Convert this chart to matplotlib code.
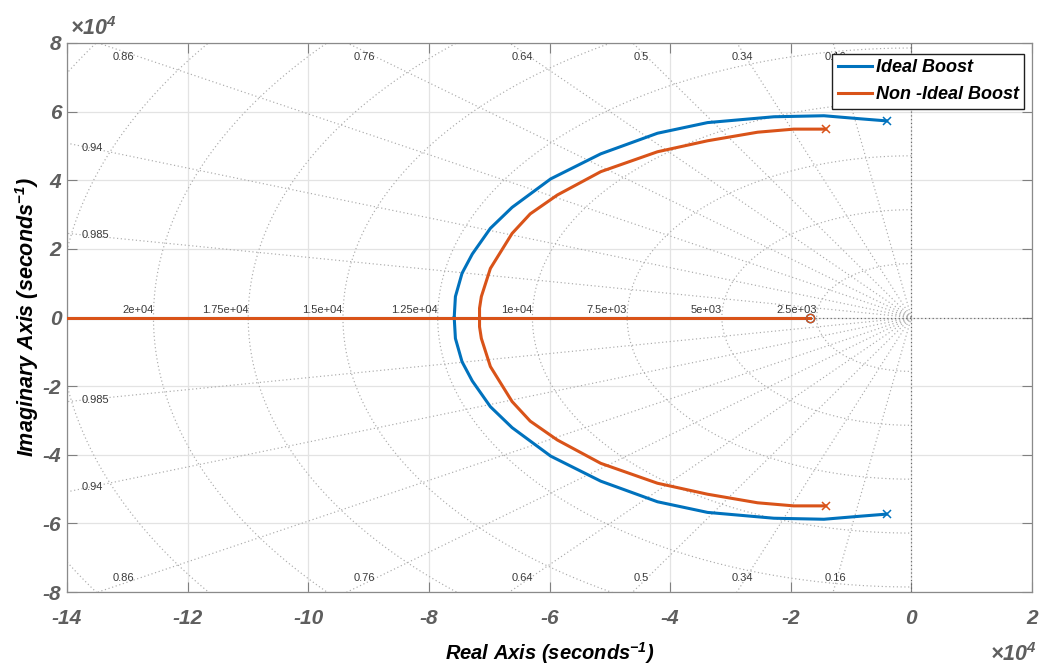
import numpy as np
import matplotlib
matplotlib.use("Agg")
import matplotlib.pyplot as plt
from matplotlib.ticker import FuncFormatter, MultipleLocator

plt.rcParams['font.family'] = ['Liberation Sans', 'DejaVu Sans']
plt.rcParams['axes.unicode_minus'] = False
plt.rcParams['mathtext.fontset'] = 'custom'
plt.rcParams['mathtext.rm'] = 'Liberation Sans:italic:bold'
plt.rcParams['mathtext.it'] = 'Liberation Sans:italic:bold'
plt.rcParams['mathtext.bf'] = 'Liberation Sans:italic:bold'

# ---------------- data (rad/s) ----------------
ideal_re = [-0.41e4, -0.84e4, -1.45e4, -2.28e4, -3.38e4, -4.21e4, -5.15e4,
            -5.98e4, -6.62e4, -6.98e4, -7.28e4, -7.45e4, -7.56e4, -7.58e4]
ideal_im = [5.73e4, 5.79e4, 5.88e4, 5.85e4, 5.68e4, 5.37e4, 4.77e4,
            4.04e4, 3.21e4, 2.60e4, 1.85e4, 1.29e4, 0.61e4, 0.0]

nonideal_re = [-1.42e4, -1.95e4, -2.55e4, -3.38e4, -4.21e4, -5.15e4, -5.87e4,
               -6.32e4, -6.62e4, -6.98e4, -7.13e4, -7.16e4, -7.16e4]
nonideal_im = [5.49e4, 5.49e4, 5.40e4, 5.15e4, 4.83e4, 4.25e4, 3.57e4,
               3.02e4, 2.45e4, 1.43e4, 0.61e4, 0.27e4, 0.0]

ideal_zero = -1.68e4
nonideal_zero = -1.68e4
real_branch_end = -1.0e6          # real-axis branch heading to -infinity

labels = ['Ideal Boost', 'Non -Ideal Boost']
colors = ['#0072BD', '#D95319']

# s-plane grid (sgrid) values
zetas = [0.16, 0.34, 0.5, 0.64, 0.76, 0.86, 0.94, 0.985]
zeta_labels = ['0.16', '0.34', '0.5', '0.64', '0.76', '0.86', '0.94', '0.985']
wn_hz = [2500, 5000, 7500, 10000, 12500, 15000, 17500, 20000, 22500, 25000]
wn_labels = ['2.5e+03', '5e+03', '7.5e+03', '1e+04', '1.25e+04', '1.5e+04',
             '1.75e+04', '2e+04', '', '']

xlim = (-14e4, 2e4)
ylim = (-8e4, 8e4)

# ---------------- figure ----------------
fig = plt.figure(figsize=(10.56, 6.68), dpi=100)
ax = fig.add_axes([67/1056, 1-592/668, 965/1056, 549/668])
ax.set_xlim(*xlim)
ax.set_ylim(*ylim)

# major grid
ax.xaxis.set_major_locator(MultipleLocator(2e4))
ax.yaxis.set_major_locator(MultipleLocator(2e4))
ax.grid(True, color='#e3e3e3', lw=0.9, zorder=0)
ax.set_axisbelow(True)

grid_col = '#ababab'
gtxt = '#3a3a3a'
dots = (0, (1, 2.2))
# damping lines
R = 4e5
for z, zl in zip(zetas, zeta_labels):
    th = np.arccos(z)
    for sgn in (1, -1):
        ax.plot([0, -R*np.cos(th)], [0, sgn*R*np.sin(th)], ls=dots,
                color=grid_col, lw=0.85, zorder=1)
    t = np.tan(th)
    if ylim[1]/t < -xlim[0]:
        yl = 0.969*ylim[1]
        ax.text(-yl/t, yl, zl, ha='center', va='top', fontsize=8, color=gtxt, zorder=2)
        ax.text(-yl/t, -yl, zl, ha='center', va='bottom', fontsize=8, color=gtxt, zorder=2)
    else:
        xl = 0.975*xlim[0]
        ax.text(xl*1.0082, -xl*t, zl, ha='left', va='center', fontsize=8, color=gtxt, zorder=2)
        ax.text(xl*1.0082, xl*t, zl, ha='left', va='center', fontsize=8, color=gtxt, zorder=2)

# natural frequency semicircles
phi = np.linspace(np.pi/2, 3*np.pi/2, 400)
for f, fl in zip(wn_hz, wn_labels):
    r = 2*np.pi*f
    ax.plot(r*np.cos(phi), r*np.sin(phi), ls=dots, color=grid_col, lw=0.85, zorder=1)
    if fl:
        ax.annotate(fl, (-r, 0), xytext=(0, 2), textcoords='offset points',
                    ha='right', va='bottom', fontsize=8, color=gtxt, zorder=2)

# s-plane axes lines
ax.axvline(0, ls=dots, color='#666666', lw=0.85, zorder=1)
ax.axhline(0, ls=dots, color='#666666', lw=0.85, zorder=1)

# root loci
handles = []
for re, im, z0, c, lab in [(ideal_re, ideal_im, ideal_zero, colors[0], labels[0]),
                           (nonideal_re, nonideal_im, nonideal_zero, colors[1], labels[1])]:
    re = np.array(re); im = np.array(im)
    h, = ax.plot(re, im, color=c, lw=2.2, zorder=4, label=lab, solid_joinstyle='round')
    ax.plot(re, -im, color=c, lw=2.2, zorder=4, solid_joinstyle='round')
    ax.plot([z0, real_branch_end], [0, 0], color=c, lw=2.2, zorder=4)
    ax.plot([re[0], re[0]], [im[0], -im[0]], ls='none', marker='x', ms=6, mew=1.1,
            color=c, zorder=5)
    ax.plot([z0], [0], ls='none', marker='o', ms=6, mfc='none', mew=1.0, color=c, zorder=5)
    handles.append(h)

# ticks
fmt = FuncFormatter(lambda v, p: f'{v/1e4:g}')
ax.xaxis.set_major_formatter(fmt)
ax.yaxis.set_major_formatter(fmt)
ax.tick_params(axis='both', which='major', direction='in', length=7, width=0.8,
               color='#808080', top=True, right=True, labelsize=15, labelcolor='#5e5e5e')
ax.tick_params(axis='x', pad=12)
ax.tick_params(axis='y', pad=4)
for lab in ax.get_xticklabels() + ax.get_yticklabels():
    lab.set_fontweight('bold')
    lab.set_fontstyle('italic')
for sp in ax.spines.values():
    sp.set_color('#8a8a8a')
    sp.set_linewidth(0.9)

# offset texts
fig.text(70/1056, 1-40/668, r'$\times10^{4}$', ha='left', va='bottom',
         fontsize=15.5, color='#5e5e5e')
fig.text(1037/1056, 1-666/668, r'$\times10^{4}$', ha='right', va='bottom',
         fontsize=15.5, color='#5e5e5e')

# axis labels
ax.set_xlabel(r'Real Axis (seconds$^{-1}$)', fontsize=14.5, fontweight='bold',
              fontstyle='italic', color='black')
ax.xaxis.set_label_coords(0.5, -0.088)
ax.set_ylabel(r'Imaginary Axis (seconds$^{-1}$)', fontsize=15.5, fontweight='bold',
              fontstyle='italic', color='black')
ax.yaxis.set_label_coords(-0.027, 0.5)

# legend
leg = ax.legend(handles=handles, loc='upper right', bbox_to_anchor=(0.9917, 0.98),
                borderaxespad=0, fancybox=False, framealpha=1, edgecolor='#202020',
                prop={'family': 'Liberation Sans', 'weight': 'bold', 'style': 'italic', 'size': 13},
                handlelength=1.9, handletextpad=0.2, borderpad=0.3, labelspacing=0.55)
leg.get_frame().set_linewidth(1.0)
leg.set_zorder(10)

fig.savefig('out.png', dpi=100, facecolor='white')
